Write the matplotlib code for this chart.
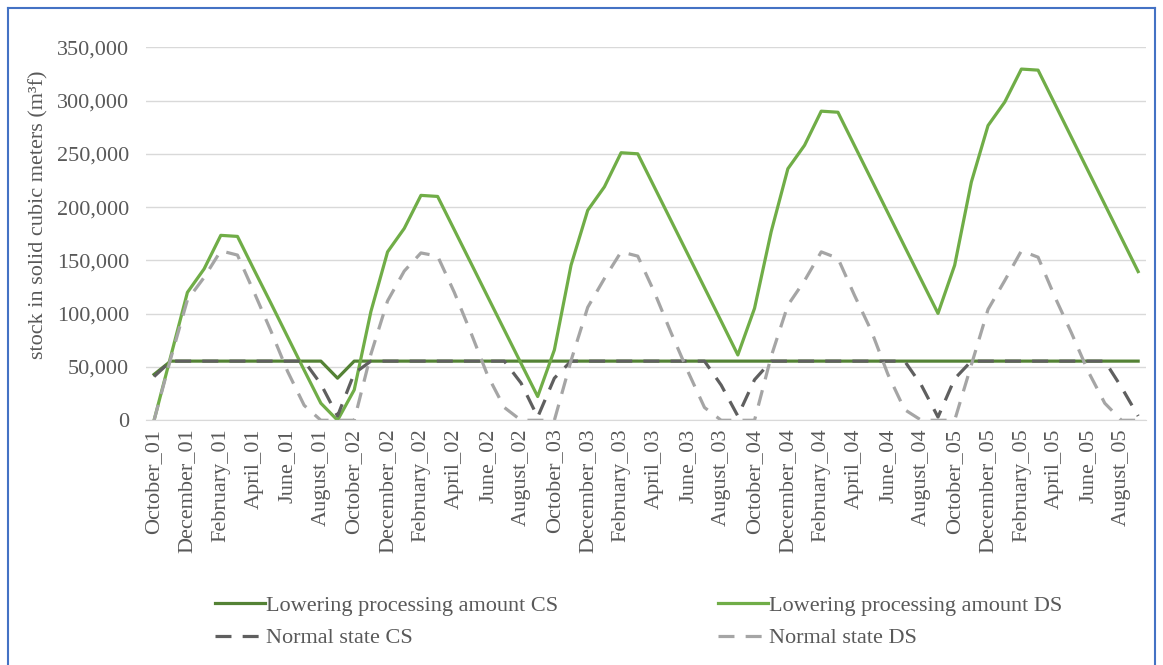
import matplotlib
matplotlib.use('Agg')
import matplotlib.pyplot as plt
from matplotlib.ticker import FuncFormatter
from matplotlib.lines import Line2D

plt.rcParams['font.family'] = ['Liberation Serif', 'DejaVu Serif']

month_names = ['October', 'November', 'December', 'January', 'February', 'March',
               'April', 'May', 'June', 'July', 'August', 'September']
years = ['01', '02', '03', '04', '05']
months = [m + '_' + y for y in years for m in month_names]

# Lowering processing amount CS
low_cs = [43000, 55500, 55500, 55500, 55500, 55500, 55500, 55500, 55500, 55500, 55500, 39500,
          55500, 55500, 55500, 55500, 55500, 55500, 55500, 55500, 55500, 55500, 55500, 55500,
          55500, 55500, 55500, 55500, 55500, 55500, 55500, 55500, 55500, 55500, 55500, 55500,
          55500, 55500, 55500, 55500, 55500, 55500, 55500, 55500, 55500, 55500, 55500, 55500,
          55500, 55500, 55500, 55500, 55500, 55500, 55500, 55500, 55500, 55500, 55500, 55500]
# Lowering processing amount DS
low_ds = [0, 60000, 120000, 142000, 173500, 172500, 141000, 110000, 78500, 47000, 16000, 0,
          28500, 102000, 158000, 180000, 211000, 210000, 178700, 147400, 116000, 84700, 53400, 22300,
          66000, 145500, 197000, 219000, 251000, 250000, 218600, 187200, 155800, 124400, 93000, 61300,
          105000, 177000, 236000, 258000, 290000, 289000, 257500, 226000, 194500, 163000, 131600, 100300,
          145500, 223500, 276500, 298500, 329500, 328500, 297000, 265500, 234000, 202500, 171000, 139500]
# Normal state CS
norm_cs = [41000, 55500, 55500, 55500, 55500, 55500, 55500, 55500, 55500, 55500, 34000, 4000,
           44000, 55500, 55500, 55500, 55500, 55500, 55500, 55500, 55500, 55500, 35000, 3000,
           39500, 55500, 55500, 55500, 55500, 55500, 55500, 55500, 55500, 55500, 33000, 4000,
           38000, 55500, 55500, 55500, 55500, 55500, 55500, 55500, 55500, 55500, 33000, 3000,
           39000, 55500, 55500, 55500, 55500, 55500, 55500, 55500, 55500, 55500, 31000, 4000]
# Normal state DS
norm_ds = [0, 58000, 113000, 134000, 159000, 155000, 120000, 84000, 46000, 14000, 0, 0,
           0, 62000, 112000, 140000, 157000, 154000, 120000, 82000, 42000, 12000, 0, 0,
           0, 56000, 106000, 133000, 158000, 154000, 120000, 82000, 46000, 12000, 0, 0,
           0, 60000, 108000, 131000, 158000, 152000, 117000, 84000, 43000, 10000, 0, 0,
           0, 52000, 104000, 131000, 159000, 153000, 116000, 82000, 46000, 16000, 0, 0]

txt = '#595959'
fs = 16
x = list(range(len(months)))

fig = plt.figure(figsize=(11.63, 6.65), dpi=100)
ax = fig.add_axes([0.1253, 0.368, 0.8605, 0.561])

ax.plot(x, low_cs, color='#548235', lw=2.3, label='Lowering processing amount CS')
ax.plot(x, low_ds, color='#70AD47', lw=2.3, label='Lowering processing amount DS')
ax.plot(x, norm_cs, color='#5f5f5f', lw=2.3, dashes=(5, 3.5), label='Normal state CS')
ax.plot(x, norm_ds, color='#A5A5A5', lw=2.3, dashes=(5, 3.5), label='Normal state DS')

ax.set_xlim(-0.5, len(months) - 0.5)
ax.set_ylim(0, 350000)
ax.set_yticks(range(0, 350001, 50000))
ax.yaxis.set_major_formatter(FuncFormatter(lambda v, p: f'{int(v):,}'))
ax.set_xticks(x[::2])
ax.set_xticklabels(months[::2], rotation=90)
ax.tick_params(length=0, labelsize=fs, colors=txt)
ax.tick_params(axis='x', pad=6)
ax.tick_params(axis='y', pad=12)
ax.grid(axis='y', color='#D9D9D9', lw=1)
ax.set_axisbelow(True)
for s in ['top', 'right', 'left']:
    ax.spines[s].set_visible(False)
ax.spines['bottom'].set_color('#D9D9D9')
ax.set_ylabel('stock in solid cubic meters (m³f)', fontsize=fs, color=txt)
ax.yaxis.set_label_coords(-0.097, 0.552)

h, l = ax.get_legend_handles_labels()
order = [0, 2, 1, 3]
fig.legend([h[i] for i in order], [l[i] for i in order], ncol=2, loc='center',
           bbox_to_anchor=(0.549, 0.065), frameon=False, fontsize=fs, labelcolor=txt,
           handlelength=2.25, handletextpad=0.05, columnspacing=7.2, labelspacing=0.55)

# blue frame around the chart
for xs, ys in [([0.007, 0.007], [0.0, 0.988]), ([0.007, 0.993], [0.988, 0.988]),
               ([0.993, 0.993], [0.0, 0.988])]:
    fig.add_artist(Line2D(xs, ys, color='#4472C4', lw=1.5, transform=fig.transFigure))

fig.savefig('out.png', dpi=100)
